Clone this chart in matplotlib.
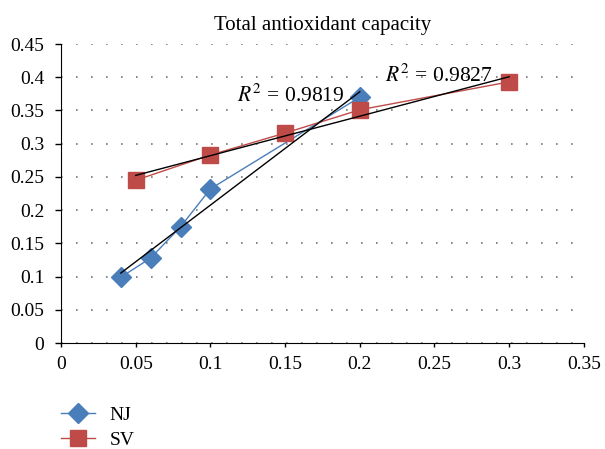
import numpy as np
import matplotlib.pyplot as plt

plt.rcParams['font.family'] = ['Liberation Serif', 'DejaVu Serif']
plt.rcParams['mathtext.fontset'] = 'stix'

nj_x = [0.04, 0.06, 0.08, 0.1, 0.2]
nj_y = [0.099, 0.128, 0.175, 0.232, 0.370]
sv_x = [0.05, 0.1, 0.15, 0.2, 0.3]
sv_y = [0.245, 0.283, 0.316, 0.351, 0.393]
r2_labels = ['0.9819', '0.9827']

fig = plt.figure(figsize=(6.05, 4.49), dpi=100)
ax = fig.add_axes([0.101, 0.236, 0.864, 0.666])

ax.plot(nj_x, nj_y, color='#4a7ebb', lw=1, marker='D', ms=10, label='NJ')
ax.plot(sv_x, sv_y, color='#be4b48', lw=1, marker='s', ms=11.5, label='SV')

# linear trendlines
for xs, ys in [(nj_x, nj_y), (sv_x, sv_y)]:
    k, b = np.polyfit(xs, ys, 1)
    xx = np.array([min(xs), max(xs)])
    ax.plot(xx, k * xx + b, color='black', lw=1, zorder=3)

ax.text(0.190, 0.363, r'$R^2$ = ' + r2_labels[0], ha='right', va='baseline', fontsize=15.5)
ax.text(0.217, 0.393, r'$R^2$ = ' + r2_labels[1], ha='left', va='baseline', fontsize=15.5)

ax.set_xlim(0, 0.35)
ax.set_ylim(0, 0.45)
ax.set_xticks(np.arange(0, 0.351, 0.05))
ax.set_yticks(np.arange(0, 0.451, 0.05))
ax.set_xticklabels(['0', '0.05', '0.1', '0.15', '0.2', '0.25', '0.3', '0.35'])
ax.set_yticklabels(['0', '0.05', '0.1', '0.15', '0.2', '0.25', '0.3', '0.35', '0.4', '0.45'])
ax.tick_params(axis='x', labelsize=14, length=3, width=1, pad=6)
ax.tick_params(axis='y', labelsize=14, length=4.5, width=1, pad=7.5)
ax.yaxis.grid(True, linestyle=(0, (1, 8)), color='#777777', lw=1.2)
ax.set_axisbelow(True)
for s in ['top', 'right']:
    ax.spines[s].set_visible(False)
fig.text(0.533, 0.933, 'Total antioxidant capacity', ha='center', va='baseline', fontsize=15)

fig.legend(handles=ax.get_lines()[:2], loc='upper left', bbox_to_anchor=(0.101, 0.096),
           frameon=False, fontsize=14, handlelength=1.75, handletextpad=0.75,
           labelspacing=0.4, borderpad=0, borderaxespad=0)

fig.savefig('out.png', dpi=100)
